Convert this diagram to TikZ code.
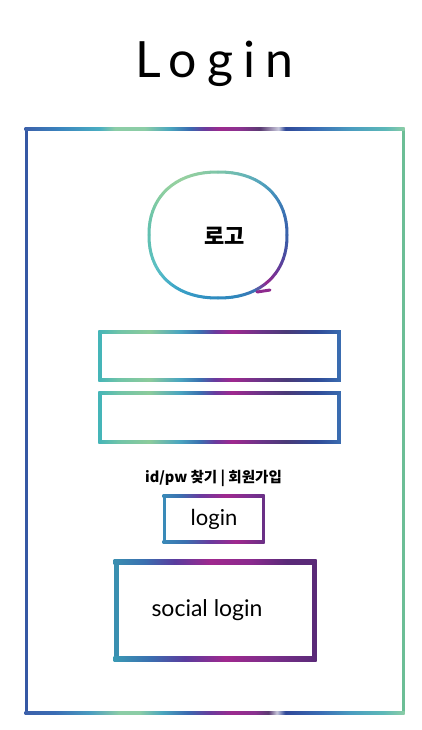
\documentclass[tikz,border=0pt]{standalone}
\usepackage{fontspec}
\setmainfont{Lato}
\newfontfamily\kr{Noto Sans CJK KR}
\newfontfamily\titlefont{Lato}[LetterSpace=20]

% outer palette
\definecolor{oB1}{HTML}{3C60AA}
\definecolor{oB2}{HTML}{3A84BE}
\definecolor{oT1}{HTML}{4AAEC2}
\definecolor{oG}{HTML}{8CCDA6}
\definecolor{oT2}{HTML}{4AA6BE}
\definecolor{oB3}{HTML}{3A68B0}
\definecolor{oP}{HTML}{6A3B9C}
\definecolor{oM}{HTML}{9C2A8E}
\definecolor{oM2}{HTML}{8A3290}
\definecolor{oD}{HTML}{5A3A72}
\definecolor{oW}{HTML}{C8C8DC}
\definecolor{oN}{HTML}{2F4898}
\definecolor{oB4}{HTML}{3A6CB4}
\definecolor{oB5}{HTML}{4A9CC0}
\definecolor{oT3}{HTML}{5CB8B8}
\definecolor{oL}{HTML}{3558A4}
\definecolor{oR}{HTML}{6CBE96}
% inputs
\definecolor{iT}{HTML}{45B5B8}
\definecolor{iG1}{HTML}{70C4A8}
\definecolor{iG}{HTML}{8CCB9B}
\definecolor{iTB}{HTML}{4AA6C0}
\definecolor{iB}{HTML}{3A70B0}
\definecolor{iP}{HTML}{6A3A9E}
\definecolor{iM}{HTML}{A0288E}
\definecolor{iP2}{HTML}{6A3488}
\definecolor{iD}{HTML}{4A3A78}
\definecolor{iN}{HTML}{2F4A98}
\definecolor{iB2}{HTML}{3A6CB0}
% buttons
\definecolor{bTB}{HTML}{3A8AB8}
\definecolor{bP}{HTML}{7A3090}
\definecolor{bD}{HTML}{6A3086}
\definecolor{sT}{HTML}{3A8FB0}
\definecolor{sT2}{HTML}{3A9AB4}
\definecolor{sP}{HTML}{5A3C9E}
\definecolor{sM2}{HTML}{8A2A8E}
\definecolor{sM3}{HTML}{7A2E8A}
\definecolor{sD}{HTML}{5A2A78}
% circle keyframes (every 15 degrees, clockwise on screen from the right)
\definecolor{k0}{HTML}{3A5EA8}
\definecolor{k1}{HTML}{4A4CA0}
\definecolor{k2}{HTML}{6A3898}
\definecolor{k3}{HTML}{8E2A8E}
\definecolor{k4}{HTML}{3A74B4}
\definecolor{k5}{HTML}{2F86BC}
\definecolor{k6}{HTML}{2F8CC0}
\definecolor{k7}{HTML}{3496C4}
\definecolor{k8}{HTML}{3AA2C6}
\definecolor{k9}{HTML}{4AB2C8}
\definecolor{k10}{HTML}{5CC0C4}
\definecolor{k11}{HTML}{5EC0B8}
\definecolor{k12}{HTML}{62C0B0}
\definecolor{k13}{HTML}{70C6A8}
\definecolor{k14}{HTML}{84CCA2}
\definecolor{k15}{HTML}{92D0A0}
\definecolor{k16}{HTML}{96D0A0}
\definecolor{k17}{HTML}{8CCCA2}
\definecolor{k18}{HTML}{7CC4AA}
\definecolor{k19}{HTML}{6AB8B4}
\definecolor{k20}{HTML}{58A8BC}
\definecolor{k21}{HTML}{4896BC}
\definecolor{k22}{HTML}{3E80B8}
\definecolor{k23}{HTML}{3A6CB0}

\pgfdeclarehorizontalshading{outtop}{100bp}{color(0bp)=(oB1); color(25bp)=(oB1); color(29.6bp)=(oB2); color(34.9bp)=(oT1); color(36.9bp)=(oG); color(40.8bp)=(oG); color(44.1bp)=(oT2); color(46.8bp)=(oB3); color(48.7bp)=(oP); color(50.7bp)=(oM); color(53.4bp)=(oM2); color(56bp)=(oD); color(58.4bp)=(oW); color(59.3bp)=(oN); color(63.3bp)=(oB4); color(67.9bp)=(oB5); color(72.5bp)=(oT3); color(75bp)=(oG); color(100bp)=(oG)}
\pgfdeclarehorizontalshading{outbot}{100bp}{color(0bp)=(oB1); color(25bp)=(oB1); color(29bp)=(oB4); color(33.6bp)=(oB5); color(37.5bp)=(oG); color(40.1bp)=(oG); color(43.1bp)=(oT2); color(46.5bp)=(oB3); color(49.4bp)=(oP); color(52.3bp)=(oM); color(55.3bp)=(oM2); color(57.1bp)=(oD); color(58.2bp)=(oW); color(59.3bp)=(oN); color(63.9bp)=(oB4); color(67.9bp)=(oB5); color(72.1bp)=(oT3); color(75bp)=(oG); color(100bp)=(oG)}
\pgfdeclarehorizontalshading{inp}{100bp}{color(0bp)=(iT); color(25bp)=(iT); color(29.2bp)=(iG1); color(35.5bp)=(iG); color(41.7bp)=(iTB); color(45.9bp)=(iB); color(49.1bp)=(iP); color(52.6bp)=(iM); color(58.5bp)=(iP2); color(63.7bp)=(iD); color(70bp)=(iN); color(75bp)=(iB2); color(100bp)=(iB2)}
\pgfdeclarehorizontalshading{btntop}{100bp}{color(0bp)=(bTB); color(25bp)=(bTB); color(33.5bp)=(iB); color(43.5bp)=(iP); color(56bp)=(iM); color(68.5bp)=(bP); color(75bp)=(bD); color(100bp)=(bD)}
\pgfdeclarehorizontalshading{btnbot}{100bp}{color(0bp)=(bTB); color(25bp)=(bTB); color(36bp)=(iB); color(48.5bp)=(iP); color(61bp)=(iM); color(75bp)=(bD); color(100bp)=(bD)}
\pgfdeclarehorizontalshading{soctop}{100bp}{color(0bp)=(sT); color(25bp)=(sT); color(32.5bp)=(iB); color(40.1bp)=(sP); color(48.9bp)=(iM); color(58.9bp)=(sM2); color(67.7bp)=(sD); color(75bp)=(sD); color(100bp)=(sD)}
\pgfdeclarehorizontalshading{socbot}{100bp}{color(0bp)=(sT2); color(25bp)=(sT2); color(33.8bp)=(iB); color(42.6bp)=(sP); color(52.6bp)=(iM); color(64bp)=(sM3); color(75bp)=(sD); color(100bp)=(sD)}

% x1 y1 x2 y2 width topshading bottomshading leftcolour rightcolour
\newcommand\gbox[9]{%
  \fill[#8] ({#1-#5/2},#2) rectangle ({#1+#5/2},#4);
  \fill[#9] ({#3-#5/2},#2) rectangle ({#3+#5/2},#4);
  \shade[shading=#6] ({#1-#5/2},{#2-#5/2}) rectangle ({#3+#5/2},{#2+#5/2});
  \shade[shading=#7] ({#1-#5/2},{#4-#5/2}) rectangle ({#3+#5/2},{#4+#5/2});
}

\begin{document}
\begin{tikzpicture}[x=1pt,y=-1pt,
  handtext/.style={inner sep=0pt, text=black}]
\fill[white] (0,0) rectangle (421,730);
\useasboundingbox (0,0) rectangle (421,730);

% title
\node[handtext, anchor=base, font=\titlefont\fontsize{50}{50}\selectfont] (title) at (214,78) {Login};

% outer frame
\gbox{26}{129}{403}{713}{3}{outtop}{outbot}{oL}{oR}

% logo circle (slightly squarish, hand-drawn look)
\foreach \i in {0,...,71}{
  \pgfmathtruncatemacro\ki{floor(\i/3)}
  \pgfmathtruncatemacro\kj{mod(\ki+1,24)}
  \pgfmathtruncatemacro\pp{round(100*mod(\i,3)/3)}
  \pgfmathsetmacro\angA{5*\i}
  \pgfmathsetmacro\angB{5*\i+5}
  \pgfmathsetmacro\xA{218+69*sign(cos(\angA))*abs(cos(\angA))^0.9}
  \pgfmathsetmacro\yA{235+63*sign(sin(\angA))*abs(sin(\angA))^0.9}
  \pgfmathsetmacro\xB{218+69*sign(cos(\angB))*abs(cos(\angB))^0.9}
  \pgfmathsetmacro\yB{235+63*sign(sin(\angB))*abs(sin(\angB))^0.9}
  \draw[line width=3, line cap=round, color=k\kj!\pp!k\ki] (\xA,\yA) -- (\xB,\yB);
}
\draw[line width=3, line cap=round, color=k3] (257,292) -- (270,290);
\node[handtext, font=\kr\bfseries\fontsize{22}{22}\selectfont] (logo) at (224.5,236) {로고};

% input boxes
\gbox{100}{332}{339}{380}{3.5}{inp}{inp}{iT}{iB2}
\gbox{100}{393}{339}{442}{3.5}{inp}{inp}{iT}{iB2}

% links
\node[handtext, font=\kr\bfseries\fontsize{14.5}{15}\selectfont] (links) at (213.5,478) {id/pw 찾기 | 회원가입};

% login button
\gbox{164}{496}{263}{542}{3}{btntop}{btnbot}{bTB}{bD}
\node[handtext, font=\fontsize{22}{22}\selectfont] (loginbtn) at (214,519) {login};

% social login
\gbox{116}{562}{314}{659}{5}{soctop}{socbot}{sT}{sD}
\node[handtext, font=\fontsize{23}{23}\selectfont] (social) at (207,610) {social login};
\end{tikzpicture}
\end{document}
